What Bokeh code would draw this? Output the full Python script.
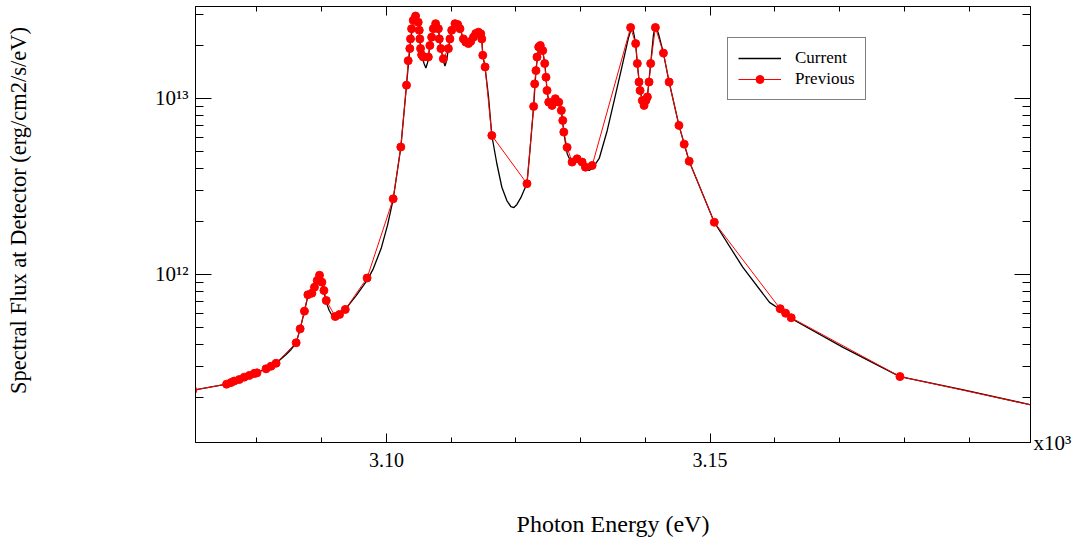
import numpy as np
from bokeh.plotting import figure
from bokeh.models import FixedTicker, LinearAxis, LogAxis, CustomJSTickFormatter, Label
from bokeh.embed import file_html
from bokeh.resources import INLINE

# ---------------- data (energy in eV, flux in units of 1e12 erg/cm2/s/eV) ----------------
current_energy_ev = [
    3070.08, 3075.30, 3080.00, 3082.95, 3084.50, 3085.27, 3086.05, 3086.67, 3087.33, 3087.86,
    3088.48, 3088.88, 3089.30, 3089.66, 3090.03, 3090.34, 3090.70, 3091.16, 3091.74, 3092.09,
    3092.76, 3093.64, 3095.35, 3097.01, 3097.98, 3099.22, 3100.16, 3101.04, 3102.22, 3103.10,
    3103.61, 3104.14, 3104.50, 3104.91, 3105.16, 3105.43, 3105.81, 3106.09, 3106.36, 3106.71,
    3107.24, 3107.60, 3108.02, 3108.42, 3108.79, 3109.04, 3109.30, 3109.57, 3110.08, 3110.59,
    3111.36, 3111.89, 3112.67, 3113.44, 3114.22, 3114.73, 3114.88, 3115.24, 3115.77, 3116.28,
    3117.05, 3117.83, 3118.60, 3119.22, 3119.69, 3120.16, 3120.78, 3121.24, 3121.71, 3122.17,
    3122.74, 3123.10, 3123.52, 3123.77, 3124.14, 3124.50, 3124.81, 3125.07, 3125.58, 3126.09,
    3126.62, 3127.02, 3127.40, 3127.91, 3128.53, 3128.99, 3129.46, 3130.23, 3130.85, 3131.32,
    3131.94, 3132.87, 3134.11, 3135.19, 3136.43, 3137.36, 3137.98, 3138.50, 3138.76, 3139.18,
    3139.80, 3140.31, 3140.82, 3141.24, 3141.55, 3142.02, 3142.79, 3143.67, 3145.19, 3146.77,
    3150.65, 3155.04, 3159.18, 3160.82, 3162.53, 3170.54, 3179.33, 3189.15, 3201.55,
]
current_flux_1e12 = [
    0.220, 0.238, 0.276, 0.313, 0.351, 0.375, 0.409, 0.491, 0.619, 0.750,
    0.783, 0.847, 0.925, 0.990, 0.901, 0.801, 0.694, 0.624, 0.573, 0.570,
    0.593, 0.633, 0.760, 0.925, 1.08, 1.42, 1.90, 2.67, 5.27, 11.9,
    19.2, 27.8, 29.4, 27.0, 21.8, 17.7, 15.8, 14.9, 16.0, 20.0,
    24.9, 26.6, 24.9, 19.2, 16.4, 15.3, 16.4, 19.2, 24.4, 26.6,
    24.9, 21.8, 20.5, 22.3, 23.8, 21.8, 17.6, 15.0, 10.2, 6.16,
    4.27, 3.13, 2.63, 2.43, 2.40, 2.50, 2.74, 3.00, 3.28, 5.06,
    9.01, 14.4, 19.6, 20.0, 18.7, 15.4, 11.1, 9.53, 9.13, 9.96,
    9.53, 8.55, 6.44, 4.87, 4.33, 4.39, 4.54, 4.27, 3.95, 3.90,
    4.06, 4.56, 6.58, 9.74, 15.4, 21.9, 26.0, 20.5, 15.8, 11.1,
    8.89, 10.2, 15.8, 22.8, 26.0, 23.4, 18.1, 12.4, 7.03, 4.40,
    1.98, 1.10, 0.694, 0.633, 0.562, 0.385, 0.263, 0.221, 0.175,
]

previous_energy_ev = [
    3070.08, 3075.30, 3075.97, 3076.48, 3077.26, 3078.03, 3078.81, 3079.58, 3080.00, 3081.40,
    3082.17, 3082.95, 3086.05, 3086.67, 3087.33, 3087.86, 3088.48, 3088.88, 3089.30, 3089.66,
    3090.03, 3090.34, 3090.70, 3092.09, 3092.76, 3093.64, 3097.01, 3101.04, 3102.22, 3103.10,
    3103.36, 3103.61, 3103.72, 3103.88, 3104.14, 3104.50, 3104.91, 3105.07, 3105.16, 3105.27,
    3105.43, 3105.69, 3106.47, 3106.71, 3106.98, 3107.24, 3107.60, 3108.02, 3108.17, 3108.42,
    3108.79, 3109.57, 3109.81, 3110.08, 3110.59, 3111.01, 3111.36, 3111.89, 3112.25, 3112.67,
    3113.02, 3113.44, 3113.80, 3114.22, 3114.57, 3114.73, 3114.88, 3115.24, 3116.28, 3121.71,
    3122.74, 3122.90, 3123.10, 3123.26, 3123.52, 3123.77, 3124.14, 3124.45, 3124.65, 3124.81,
    3125.07, 3125.58, 3126.09, 3126.62, 3127.02, 3127.24, 3127.40, 3127.91, 3128.68, 3129.46,
    3130.23, 3130.74, 3131.78, 3137.72, 3138.50, 3138.76, 3139.02, 3139.18, 3139.53, 3139.80,
    3140.08, 3140.31, 3140.57, 3140.82, 3141.55, 3142.79, 3143.67, 3145.19, 3146.00, 3146.77,
    3150.65, 3160.82, 3161.66, 3162.53, 3179.33, 3201.55,
]
previous_flux_1e12 = [
    0.220, 0.238, 0.243, 0.248, 0.253, 0.261, 0.267, 0.274, 0.276, 0.291,
    0.301, 0.313, 0.409, 0.491, 0.619, 0.767, 0.783, 0.847, 0.925, 0.990,
    0.904, 0.811, 0.711, 0.577, 0.593, 0.633, 0.955, 2.69, 5.30, 11.9,
    16.4, 19.2, 21.8, 24.9, 27.8, 29.4, 27.1, 24.4, 21.8, 19.2,
    17.7, 17.2, 17.2, 20.0, 22.3, 24.9, 26.6, 24.9, 21.8, 19.2,
    16.8, 19.2, 21.8, 24.4, 26.6, 26.3, 24.9, 21.8, 20.9, 20.5,
    21.1, 22.3, 23.4, 23.8, 23.3, 21.8, 17.6, 15.1, 6.16, 3.28,
    9.01, 12.1, 14.4, 17.2, 19.6, 20.0, 18.7, 15.8, 13.2, 11.1,
    9.53, 9.13, 9.96, 9.53, 8.55, 7.50, 6.44, 5.27, 4.35, 4.54,
    4.35, 4.07, 4.16, 25.3, 20.5, 15.8, 12.4, 11.1, 9.74, 9.13,
    9.74, 10.2, 12.4, 15.8, 25.3, 18.1, 12.4, 7.03, 5.50, 4.40,
    1.98, 0.639, 0.603, 0.568, 0.263, 0.175,
]

x_major_ticks = [3.10, 3.15]
x_minor_ticks = [3.08, 3.09, 3.11, 3.12, 3.13, 3.14, 3.16, 3.17, 3.18, 3.19]
y_major_ticks = [1e12, 1e13]
y_minor_ticks = [2e11, 3e11, 4e11, 5e11, 6e11, 7e11, 8e11, 9e11,
                 2e12, 3e12, 4e12, 5e12, 6e12, 7e12, 8e12, 9e12, 2e13, 3e13]

x_range_kev = (3.0705, 3.1995)
y_range = (1.11e11, 3.33e13)

FONT = "Liberation Serif"

cx = np.array(current_energy_ev) / 1000.0
cy = np.array(current_flux_1e12) * 1e12
px = np.array(previous_energy_ev) / 1000.0
py = np.array(previous_flux_1e12) * 1e12

p = figure(width=1075, frame_width=835, frame_height=436,
           y_axis_type="log", x_range=x_range_kev, y_range=y_range,
           output_backend="svg", toolbar_location=None,
           min_border_left=195, min_border_right=45, min_border_top=6, min_border_bottom=92,
           background_fill_color="white", border_fill_color="white")
p.grid.visible = False
p.outline_line_color = "black"
p.outline_line_width = 1

p.line(cx, cy, line_color="black", line_width=1.3, legend_label="Current")
p.line(px, py, line_color="#ff0000", line_width=1.0, legend_label="Previous")
p.scatter(px, py, marker="circle", size=8, fill_color="#ff0000", line_color="#ff0000",
          legend_label="Previous")

xt = FixedTicker(ticks=x_major_ticks, minor_ticks=x_minor_ticks)
yt = FixedTicker(ticks=y_major_ticks, minor_ticks=y_minor_ticks)

sup_code = """
const e = Math.round(Math.log10(tick));
const s = {'0':'\u2070','1':'\u00b9','2':'\u00b2','3':'\u00b3','4':'\u2074','5':'\u2075','6':'\u2076','7':'\u2077','8':'\u2078','9':'\u2079','-':'\u207b'};
return '10' + String(e).split('').map(c => s[c]).join('');
"""

xa = p.xaxis[0]
xa.ticker = xt
xa.formatter = CustomJSTickFormatter(code="return tick.toFixed(2);")
xa.axis_label = "Photon Energy (eV)"
ya = p.yaxis[0]
ya.ticker = yt
ya.formatter = CustomJSTickFormatter(code=sup_code)
# leading no-break spaces shift the rotated label upward, as in the reference
ya.axis_label = "\u00a0" * 5 + "Spectral Flux at Detector (erg/cm2/s/eV)"

for ax in (xa, ya):
    ax.axis_line_color = "black"
    ax.major_tick_line_color = "black"
    ax.minor_tick_line_color = "black"
    ax.major_tick_out = 0
    ax.minor_tick_out = 0
    ax.major_label_text_font = FONT
    ax.major_label_text_color = "black"
    ax.axis_label_text_font = FONT
    ax.axis_label_text_font_style = "normal"
    ax.axis_label_text_color = "black"

xa.major_tick_in = 9
xa.minor_tick_in = 5
xa.major_label_text_font_size = "20px"
xa.major_label_standoff = 10
xa.axis_label_text_font_size = "24px"
xa.axis_label_standoff = 41

ya.major_tick_in = 16
ya.minor_tick_in = 8
ya.major_label_text_font_size = "21px"
ya.major_label_standoff = 7
ya.axis_label_text_font_size = "22.5px"
ya.axis_label_standoff = 121

blank = CustomJSTickFormatter(code="return '';")
top_axis = LinearAxis(ticker=xt, formatter=blank, major_tick_in=9, minor_tick_in=5,
                      major_tick_out=0, minor_tick_out=0, major_label_standoff=0,
                      major_label_text_font_size="0px", axis_line_color="black")
right_axis = LogAxis(ticker=yt, formatter=blank, major_tick_in=16, minor_tick_in=8,
                     major_tick_out=0, minor_tick_out=0, major_label_standoff=0,
                     major_label_text_font_size="0px", axis_line_color="black")
p.add_layout(top_axis, "above")

props = right_axis.properties()
if "axis_label_orientation" in props:
    right_axis.axis_label = "x10\u00b3"
    right_axis.axis_label_orientation = "horizontal"
    right_axis.axis_label_text_font = FONT
    right_axis.axis_label_text_font_size = "21px"
    right_axis.axis_label_text_font_style = "normal"
    right_axis.axis_label_text_color = "black"
    right_axis.axis_label_standoff = 3
    if "axis_label_align" in props:
        right_axis.axis_label_align = "start"
    p.add_layout(right_axis, "right")
else:
    p.add_layout(right_axis, "right")
    p.add_layout(Label(x=x_range_kev[1], y=y_range[0], x_offset=3, y_offset=0,
                       text="x10\u00b3", text_font=FONT, text_font_size="21px",
                       text_color="black", text_baseline="bottom", text_align="left"))

lg = p.legend[0]
lg.location = (532, 342)
lg.label_text_font = FONT
lg.label_text_font_size = "17px"
lg.label_text_color = "black"
lg.border_line_color = "black"
lg.border_line_width = 1
lg.background_fill_alpha = 1.0
lg.padding = 10
lg.spacing = 1
lg.margin = 0
lg.glyph_width = 43
lg.glyph_height = 20
lg.label_height = 20
lg.label_standoff = 14

open("out.html", "w").write(file_html(p, INLINE))
